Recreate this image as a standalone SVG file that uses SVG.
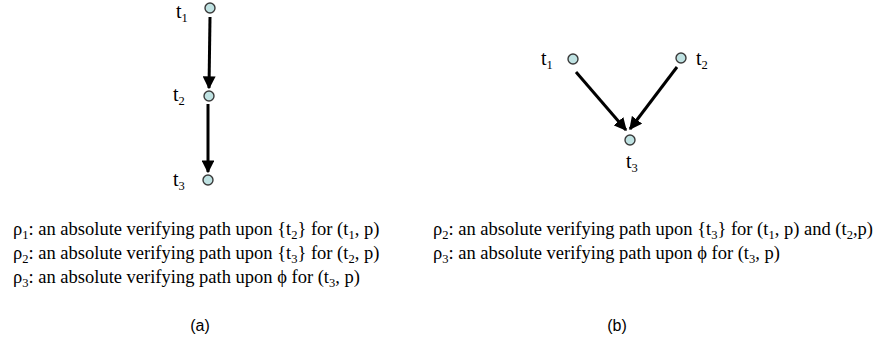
<svg xmlns="http://www.w3.org/2000/svg" width="878" height="339" viewBox="0 0 878 339">
<style>
.node{fill:#bfe2e2;stroke:#3a3a3a;stroke-width:1.4}
.lbl{font-family:"Liberation Serif","Times New Roman",serif;font-size:18.5px;fill:#000}
.tl{font-family:"Liberation Serif","Times New Roman",serif;font-size:20px;fill:#000}
.cap{font-family:"Liberation Sans",Arial,sans-serif;font-size:16px;fill:#000}
.sub{font-size:12.5px}
.edge{stroke:#000;stroke-width:3;fill:none}
</style>
<defs>
<marker id="ah" viewBox="0 0 10 10" refX="9" refY="5" markerWidth="4.3" markerHeight="4.3" orient="auto" markerUnits="strokeWidth">
<path d="M0,0 L10,5 L0,10 z" fill="#000"/>
</marker>
</defs>
<rect width="878" height="339" fill="#fff"/>
<g id="connectors">
<line class="edge" x1="210" y1="17" x2="209" y2="88" marker-end="url(#ah)"/>
<line class="edge" x1="208" y1="104" x2="208" y2="172" marker-end="url(#ah)"/>
<line class="edge" x1="576" y1="72" x2="626" y2="130" marker-end="url(#ah)"/>
<line class="edge" x1="677" y1="67" x2="630" y2="129" marker-end="url(#ah)"/>
</g>
<g id="a_t1"><circle class="node" cx="210" cy="8" r="5"/><text class="tl" x="176" y="18">t<tspan class="sub" dy="4">1</tspan></text></g>
<g id="a_t2"><circle class="node" cx="209" cy="96" r="5"/><text class="tl" x="173" y="101">t<tspan class="sub" dy="4">2</tspan></text></g>
<g id="a_t3"><circle class="node" cx="208" cy="180" r="5"/><text class="tl" x="173" y="186">t<tspan class="sub" dy="4">3</tspan></text></g>
<g id="b_t1"><circle class="node" cx="573" cy="59" r="5"/><text class="tl" x="541" y="65">t<tspan class="sub" dy="4">1</tspan></text></g>
<g id="b_t2"><circle class="node" cx="681" cy="58" r="5"/><text class="tl" x="696" y="65">t<tspan class="sub" dy="4">2</tspan></text></g>
<g id="b_t3"><circle class="node" cx="630" cy="140" r="5"/><text class="tl" x="626" y="168">t<tspan class="sub" dy="4">3</tspan></text></g>
<g id="text_a">
<text class="lbl" x="13" y="235">ρ<tspan class="sub" dy="4">1</tspan><tspan dy="-4">: an absolute verifying path upon {t</tspan><tspan class="sub" dy="4">2</tspan><tspan dy="-4">} for (t</tspan><tspan class="sub" dy="4">1</tspan><tspan dy="-4">, p)</tspan></text>
<text class="lbl" x="13" y="259">ρ<tspan class="sub" dy="4">2</tspan><tspan dy="-4">: an absolute verifying path upon {t</tspan><tspan class="sub" dy="4">3</tspan><tspan dy="-4">} for (t</tspan><tspan class="sub" dy="4">2</tspan><tspan dy="-4">, p)</tspan></text>
<text class="lbl" x="13" y="283">ρ<tspan class="sub" dy="4">3</tspan><tspan dy="-4">: an absolute verifying path upon ϕ for (t</tspan><tspan class="sub" dy="4">3</tspan><tspan dy="-4">, p)</tspan></text>
<text class="cap" x="200" y="331" text-anchor="middle">(a)</text>
</g>
<g id="text_b">
<text class="lbl" x="433" y="235">ρ<tspan class="sub" dy="4">2</tspan><tspan dy="-4">: an absolute verifying path upon {t</tspan><tspan class="sub" dy="4">3</tspan><tspan dy="-4">} for (t</tspan><tspan class="sub" dy="4">1</tspan><tspan dy="-4">, p) and (t</tspan><tspan class="sub" dy="4">2</tspan><tspan dy="-4">,p)</tspan></text>
<text class="lbl" x="433" y="259">ρ<tspan class="sub" dy="4">3</tspan><tspan dy="-4">: an absolute verifying path upon ϕ for (t</tspan><tspan class="sub" dy="4">3</tspan><tspan dy="-4">, p)</tspan></text>
<text class="cap" x="617" y="331" text-anchor="middle">(b)</text>
</g>
</svg>
